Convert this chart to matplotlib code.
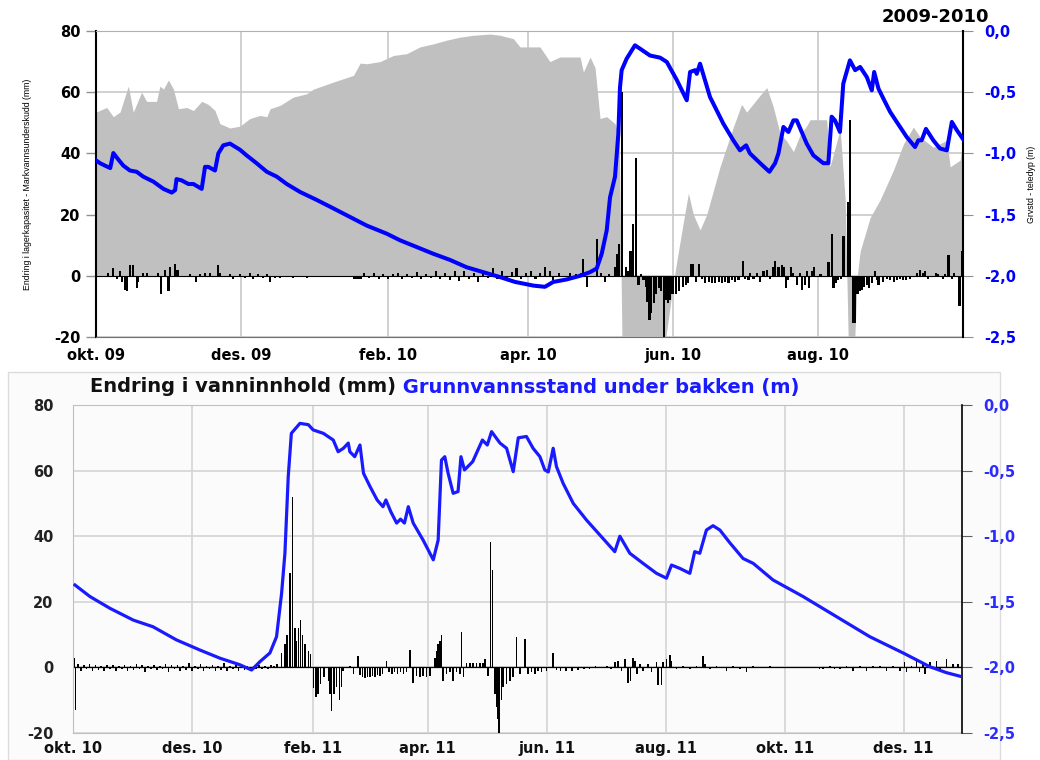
import numpy as np
import matplotlib
matplotlib.use('Agg')
import matplotlib.pyplot as plt
from matplotlib.patches import Rectangle

# ---------------- top panel data (day 0 = 1 Oct 2009) ----------------
top_start = '2009-10-01'
top_end = '2010-10-01'
top_months = ['2009-10-01', '2009-12-01', '2010-02-01', '2010-04-01', '2010-06-01', '2010-08-01']
top_labels = ['okt. 09', 'des. 09', 'feb. 10', 'apr. 10', 'jun. 10', 'aug. 10']

# soil water deficit (grey area, mm)
deficit_days = [0, 4.5, 7.3, 10.1, 13.6, 15.7, 19.2, 21.3, 25.5, 26.9, 28.4, 30.5, 32.6, 34.7,
                38.2, 41, 44.5, 47.3, 50.1, 52.2, 56.4, 60.6, 64.8, 69, 71.9, 73.3, 77.5, 83.1,
                88.7, 91.5, 99.9, 108.4, 111.2, 114, 119.6, 125.2, 130.8, 136.4, 142, 147.6,
                153.3, 158.9, 165.9, 170.1, 175.7, 178.5, 186.9, 191.1, 195.3, 203.8, 205.2,
                208, 210.1, 212.2, 215, 218.5, 220.3, 221.5, 239, 243.5, 246.5, 249.4, 251.5,
                254.3, 257.1, 262.7, 268.3, 271.8, 273.9, 279.6, 282.4, 285.2, 288, 290.8,
                293.6, 296.4, 299.2, 300.6, 307.6, 309, 313.3, 315.4, 316.8, 319.2, 320.5,
                321.7, 325.9, 330.1, 335.7, 339.9, 344.1, 346.9, 352.5, 358.2, 359.6, 363.8, 365]
deficit_vals = [53.5, 55, 52, 53.5, 62, 53.5, 60, 57, 57, 62, 61, 64, 61, 54.6,
                55, 54, 57, 56, 54, 49.7, 48.3, 48.9, 51.4, 52.4, 52, 54.6, 55.7, 58.4,
                59.5, 61, 63.3, 65.5, 69.5, 69.3, 70, 72, 72.6, 74.8, 75.8, 77,
                78, 78.6, 79, 78.6, 77.5, 74.8, 74.8, 70, 71.5, 71.5, 66.6,
                71.5, 68, 51.4, 52, 49.7, 45, -25, -25, 0, 14, 27, 20,
                15, 20, 35.6, 48.6, 56, 53.5, 59, 61.5, 55, 46.5, 44,
                40.6, 46, 49, 51, 51, 35.6, 48, 24.8, -25, -25, 0,
                8, 19, 24.8, 34.5, 43, 48.6, 45.4, 42, 44.3, 35.6, 37.8, 44.8]

# daily change in storage (black bars, mm)
top_bar_days = [1, 2.4, 3.8, 5.2, 7, 8.7, 10.1, 10.8, 12.2, 12.9, 14.3, 15.4, 17.1, 17.8, 19.9,
                21.3, 24.1, 26.2, 27.2, 29, 30.5, 31.2, 33.3, 34.3, 36.1, 39.6, 42.1, 43.8,
                45.9, 48, 51.2, 52.2, 53.6, 56.4, 57.8, 60.6, 62.7, 64.8, 66.2, 68.3, 70.4,
                71.9, 73.3, 75.4, 77.5, 80.3, 83.1, 85.9, 88.7, 108.5, 109.5, 110.5, 111.5,
                113, 115, 117, 119, 121, 123, 125, 127, 129, 131, 133, 135, 137, 139, 141,
                143, 145, 147, 149, 151, 153, 155, 157, 159, 161, 163, 165, 167, 169, 171,
                173, 175, 177, 179, 181, 183, 185, 187, 189, 191, 192.5, 195, 197, 199.5,
                200.5, 202, 204, 205.2, 206.6, 211, 212.5, 214.3, 216, 218.5, 219.3, 220.1,
                221.6, 223, 224, 225, 226, 227.4, 228.4, 229.5, 230.5, 231.4, 232.1, 233,
                233.8, 234.8, 235.9, 237, 238, 239, 240, 240.7, 241.6, 242.7, 244, 245.5,
                247, 248.4, 249.4, 250.4, 251.5, 252.7, 254, 255, 256.4, 257.9, 259.3, 260.7,
                262.1, 263.5, 264.9, 266.3, 267.7, 269.1, 270.5, 272.3, 273.3, 274.7, 275.4,
                276.8, 278.2, 279.6, 281, 282.4, 283.8, 285.2, 286, 287.3, 288.7, 289.7,
                290.6, 291.5, 292.5, 293.6, 295, 296.2, 297.1, 298.5, 299.3, 300, 301.4,
                302.1, 303.5, 305, 306.5, 308.4, 309.7, 310.5, 311.5, 312.5, 313.5, 314.7,
                315.5, 316.6, 317.6, 318.6, 319.6, 320.6, 321.4, 322.4, 323.4, 324.5, 325.6,
                326.6, 328, 328.7, 329.4, 331.5, 333, 334.3, 336, 337.1, 338.5, 339.9, 341,
                342.7, 344, 345.5, 346.9, 348, 349, 350.4, 352.5, 353.5, 354.6, 355.5, 356.7,
                357.5, 358.9, 360.3, 361.3, 362.4, 363.5, 364.5]
top_bar_vals = [-0.5, -0.5, -0.3, 1, 2.5, -1, 1.5, -2, -4.5, -5, 3.5, 3.5, -4, -2, 1,
                1, -0.3, 1, -6, 2, -5, 3, 4, 2, -0.5, 0.5, -2, 0.5,
                1, 0.8, 3.5, 1, -0.5, 0.5, -1, 0.5, -0.8, 0.8, -1, 0.5, -0.8,
                0.7, -2, -0.6, -0.8, -0.5, -0.6, -0.5, -0.8, -1, -1, -1, -1,
                0.8, -0.8, 1, -1, 0.6, -1, 0.5, 0.8, -1, 0.7, -0.6, 1.2, -1.2, 0.6, -0.8,
                1.5, -1.2, 0.8, -1.5, 1.6, -1.8, 1.5, -1, 1, -2, 1.2, -0.8, 2.5, -1, 1.5,
                -1.2, 1.2, 2.5, -1.2, 1, 1.5, -1, 1, 3, 1.5, -1.5, 1, -0.5, 1,
                -1, 0.5, 1, 5.6, -3.6, 11.9, 1, -2, 0.5, 3, 7, 10.5,
                60, 3, 1.5, 8, 16.9, 38.4, -3, 0.5, -1.5, -3.6, -8.5, -14.4,
                -12, -9, -6, -4, -5, -22, -8, -9, -8, -6, -6, -5,
                -3.5, -3, -2.5, 4, 4, -2, 4, -1, -2.5, -2, -2.5, -2.5,
                -2, -2.5, -2, -2.5, -1.5, -2, -1.5, 5, -1, -1.5, 1,
                -1, 1, -2, 1.5, 2, -1, 3, 5, 3, 3.5, 3,
                -4, -1.5, 3, 1, -3, 1, -4.5, -3, 1.5, -4, 1.5,
                3, -0.5, 0.5, -0.5, 4.5, 13.5, -4, -2.5, -1.5, -1, 13,
                -0.5, 24, 51, -15.5, -15.5, -6, -5, -4.5, -3.5, -3, -4,
                -2.5, 1.5, -1.5, -3, -2, -1, -1.5, -2, -1.5, -1, -1.5, -1.5,
                -1, -0.5, 1, 2, 1, 1.5, -1, -0.5, 1, 0.5, -0.5, -1,
                0.5, 6.7, -1, 1, -0.5, -10, 8.2]

# groundwater / frost depth (blue line, m)
top_gw_days = [0, 1.7, 3.8, 6.0, 7.3, 9.4, 11.5, 14.3, 17.1, 19.9, 24.1, 28.4, 31.9, 33.3,
               33.9, 36, 38.9, 41, 44.5, 45.9, 47.3, 50.1, 51.5, 53.6, 56.4, 60.6, 63.4,
               67.6, 71.9, 76.1, 80.3, 85.9, 92.9, 100, 107, 114, 122.4, 128, 135, 142, 149,
               156, 163, 170, 176.4, 184.1, 189, 192.5, 198.1, 203.8, 208, 210.8, 212.9, 215,
               216.4, 218.5, 219.9, 220.6, 221.3, 223.4, 226.9, 229, 233.2, 237.5, 240.3,
               244.5, 248.7, 250.1, 252.2, 252.9, 254.3, 258.5, 259.9, 264.1, 268.3, 271.1,
               273.7, 275.3, 279.6, 283.5, 285.9, 287.3, 289.4, 291.5, 293.6, 295, 299.2, 302,
               306.2, 308.3, 309.7, 311.1, 313.2, 314.6, 317.4, 319.6, 321.7, 324.5, 326.6,
               327.6, 329.4, 331.5, 334.3, 337.1, 341.3, 344.8, 346.2, 347.6, 349.4, 352.5,
               355.3, 358.2, 360.3, 362.4, 364.9]
top_gw_vals = [-1.057, -1.08, -1.10, -1.12, -0.997, -1.05, -1.10, -1.14, -1.15, -1.19, -1.23,
               -1.29, -1.32, -1.30, -1.21, -1.22, -1.25, -1.25, -1.29, -1.11, -1.11, -1.14,
               -1.00, -0.934, -0.92, -0.97, -1.016, -1.08, -1.15, -1.19, -1.25, -1.315, -1.38,
               -1.45, -1.52, -1.59, -1.656, -1.71, -1.765, -1.82, -1.87, -1.93, -1.97, -2.01,
               -2.05, -2.08, -2.09, -2.05, -2.03, -2.0, -1.97, -1.94, -1.82, -1.63, -1.36,
               -1.19, -0.84, -0.46, -0.32, -0.226, -0.117, -0.144, -0.20, -0.218, -0.253,
               -0.40, -0.566, -0.335, -0.32, -0.35, -0.267, -0.54, -0.594, -0.757, -0.893,
               -0.975, -0.934, -1.00, -1.08, -1.15, -1.08, -1.00, -0.784, -0.825, -0.73,
               -0.73, -0.92, -1.016, -1.08, -1.08, -0.70, -0.73, -0.825, -0.43, -0.24, -0.32,
               -0.294, -0.376, -0.485, -0.335, -0.47, -0.553, -0.66, -0.743, -0.866, -0.948,
               -0.893, -0.893, -0.80, -0.893, -0.96, -0.975, -0.743, -0.81, -0.88]

# ---------------- bottom panel data (day 0 = 1 Oct 2010) ----------------
bot_start = '2010-10-01'
bot_months = ['2010-10-01', '2010-12-01', '2011-02-01', '2011-04-01', '2011-06-01',
              '2011-08-01', '2011-10-01', '2011-12-01']
bot_labels = ['okt. 10', 'des. 10', 'feb. 11', 'apr. 11', 'jun. 11', 'aug. 11', 'okt. 11', 'des. 11']

bot_bar_days = [0.8, 1.3, 2.5, 4, 5.5, 7, 8.5, 10, 11.5, 13, 14.5, 16, 17.5, 19, 20.5, 22, 23.5,
                25, 26.5, 28, 29.5, 31, 32.5, 34, 35.5, 37, 38.5, 40, 41.5, 43, 44.5, 46, 47.5,
                49, 50.5, 52, 53.5, 55, 56.5, 58, 59.5, 61, 62.5, 64, 65.5, 67, 68.5, 70, 71.5,
                73, 74.5, 76, 77.5, 79, 80.5, 82, 83.5, 85, 86.5, 88, 89.5, 91, 92.5, 94, 95.5,
                97, 98.5, 100, 101.5, 103, 104.5,
                107, 108.7, 109.9, 111.3, 112.6, 113.9, 114.7, 115.6, 116.8, 117.8, 119, 120.7,
                121.9, 123.3, 124.6, 125.8, 127, 128.7, 131, 131.8, 132.7, 133.8, 135.2, 136.6,
                137.8, 138.6, 142, 143.8, 146.3, 147.2, 148.5, 149.8, 151, 152.3, 153.6, 154.9,
                156.1, 157.4, 158.7, 160.9, 162, 163.5, 165, 166.5, 168, 169.5, 171, 172.8,
                174.5, 176.2, 177.9, 179.6, 181.3, 183, 185.6, 186.4, 187.3, 188.2, 189, 189.9,
                191.6, 193.3, 195, 196.7, 198.5, 199.3, 200.2, 201.9, 203.6, 205.3, 207, 208.7,
                210.4, 211.3, 213, 214.2, 215.2, 216.4, 217.3, 218.1, 218.6, 219.8, 220.7,
                222.4, 224.1, 225.8, 227.5, 229.2, 231.8, 233.5, 235.2, 236.9, 238.6, 240.3,
                242.9, 246.3, 248, 250, 253, 256, 259, 262, 265, 268, 271, 274, 276, 277.9,
                279.6, 281.3, 283, 284.8, 286, 287.3, 288.2, 289.4, 290.7, 292.4, 295, 296.7,
                299.3, 300.1, 301.9, 302.7, 304.4, 306.1, 307, 309.5, 313, 316.4, 319.8, 323.2,
                324.1, 326.6, 330, 335.2, 338.6, 342, 345.4, 348.9, 352.3, 357.4, 360.8, 383,
                384.8, 388.2, 390.7, 393.3, 396.7, 400.1, 403.6, 407, 410.4, 413.8, 417.2,
                420.7, 424.1, 426.6, 427.5, 430.1, 432.6, 434.3, 436, 436.9, 439.5, 442.9,
                444.6, 448, 451.4, 454]
bot_bar_vals = [3, -13, 1, -1.2, 0.8, -0.5, 1, -1, 0.6, -0.8, 0.5, -1, 0.7, -0.5, 0.8, -1.2, 0.5,
                -0.6, 0.8, -1, 0.4, -0.7, 1, -0.5, 0.6, -1.3, 0.5, -0.6, 0.8, -0.9, 0.5, -0.5, 1,
                -1.4, 0.6, -0.5, 0.7, -1, 0.5, -0.7, 1.2, -1, 0.5, -0.5, 0.9, -1.2, 0.5, -0.6, 0.8,
                -1, 0.5, -0.8, 1.3, -1, 0.5, -0.5, 0.7, -1, 0.6, -0.8, 0.5, -1.2, 0.5, -0.6, 0.8,
                -0.5, 0.5, -0.4, 0.6, 0.4, 1,
                4.3, 7, 10, 28.7, 52, 12, 8, 12, 14.5, 10, 7, 5,
                4, -6.4, -9, -8, -5, -3, -4, -8, -13.4, -8, -6, -10,
                -6, -1, 0.5, -2, 3.5, -2.3, -3, -3.3, -2.8, -3, -2.5, -3,
                -2.3, -2.5, -2, 2, -1.5, -2, -1.5, -2, -1.5, -2, -1.5, 5.3,
                -4.9, -2.5, -3, -2.5, -3, -2.5, 3, 5, 7, 8, 9.9, -4,
                -2, -1.5, -4, -1.5, -2, 10.9, -3, 1.2, 1.2, 1.2, 1.2, 1.2,
                1.2, 2.5, -2.5, 38.3, 29.7, -8, -12, -15.6, -21, -10, -6,
                -5, -4, -3, 9.3, -2, 8.8, -2, -1.5, -2, -1, -1.5,
                -1, 4.3, -0.8, -1, -1, -1, -0.8, -0.5, -0.5, 0.3, -0.3, 0.5, -0.5, 1.5,
                2, -1, 2.5, -4.9, -4, 3, 2, -2, 1, -1, 1, -1.5,
                1.5, -5.4, -5.4, 1.5, 2.5, 3.8, 2, -0.5, 0.5, -0.5, 0.5, 3.5,
                1, -0.5, 0.5, -1, 0.5, -0.5, -1.5, 0.3, -0.3, 0.3, -0.3, -0.5,
                -0.5, 0.5, -0.5, -0.5, 0.5, -1, 0.5, -1, 0.5, 0.5, -1,
                0.5, -1, 1.5, -1.5, 0.5, 2, -1.5, 1, -2, 1.5, 2,
                -1, 2.5, 1, 1]

bot_gw_days = [1, 8.7, 19, 31, 41, 53, 65, 75.4, 85.6, 91.6, 95.9, 101, 104.4, 107, 108.7,
               110.4, 112, 116.4, 120.7, 123.2, 128.4, 133.5, 136, 138.7, 141.2, 142, 144.5,
               147.2, 149, 152.3, 156, 159, 160.5, 163, 166, 168, 170, 172, 174.5, 179.6,
               184.8, 187.3, 189, 190.7, 192.4, 195, 197.5, 199, 200.8, 205, 210, 212.5,
               214.7, 219, 222.4, 225.8, 228.4, 232.6, 236, 239.5, 242, 243.8, 246.3, 248,
               251.4, 256.6, 263.4, 270.2, 277.9, 280.5, 285.6, 292.4, 299.3, 304.4, 307,
               311.2, 316.4, 318.9, 321.5, 324.9, 328.3, 331.8, 336.9, 343.7, 348.9, 359.1,
               374.5, 391.6, 408.7, 425.8, 439.5, 448, 455.7]
bot_gw_vals = [-1.372, -1.46, -1.55, -1.64, -1.69, -1.79, -1.867, -1.93, -1.98, -2.02, -1.956,
               -1.89, -1.766, -1.435, -1.13, -0.546, -0.216, -0.14, -0.15, -0.19, -0.216,
               -0.267, -0.356, -0.33, -0.29, -0.356, -0.394, -0.305, -0.52, -0.62, -0.724,
               -0.775, -0.724, -0.813, -0.90, -0.87, -0.90, -0.775, -0.90, -1.03, -1.18,
               -1.03, -0.42, -0.394, -0.52, -0.673, -0.66, -0.394, -0.495, -0.432, -0.267,
               -0.305, -0.203, -0.29, -0.33, -0.508, -0.25, -0.24, -0.33, -0.394, -0.495,
               -0.51, -0.33, -0.47, -0.597, -0.75, -0.877, -0.99, -1.118, -1.0, -1.13,
               -1.207, -1.283, -1.32, -1.22, -1.245, -1.283, -1.118, -1.13, -0.953, -0.92,
               -0.953, -1.05, -1.17, -1.207, -1.334, -1.46, -1.613, -1.766, -1.89, -1.995,
               -2.04, -2.07]

left_ticks = [-20, 0, 20, 40, 60, 80]
right_ticks = [-2.5, -2.0, -1.5, -1.0, -0.5, 0.0]
right_labels = ['-2,5', '-2,0', '-1,5', '-1,0', '-0,5', '0,0']


def offsets(start, dates):
    return [int((np.datetime64(d) - np.datetime64(start)).astype(int)) for d in dates]


fig = plt.figure(figsize=(10.4, 7.6), dpi=100)

# faint frame of the lower screenshot
fig.patches.append(Rectangle((8 / 1040, 0), 992 / 1040, 388 / 760, transform=fig.transFigure,
                             facecolor='#fbfbfb', edgecolor='#dcdcdc', lw=1, zorder=-5))

grid_col = '#c8c8c8'
tick_font = dict(fontsize=10.5, fontweight='bold')
narrow = ['Liberation Sans Narrow', 'Liberation Sans', 'DejaVu Sans']

# ================= top panel =================
ax = fig.add_axes([96 / 1040, 1 - 337 / 760, 867 / 1040, 306 / 760])
ax.set_xlim(0, offsets(top_start, [top_end])[0])
ax.set_ylim(-20, 80)
ax.fill_between(deficit_days, 0, deficit_vals, color='#c0c0c0', lw=0, zorder=1)
ax.bar(top_bar_days, top_bar_vals, width=0.9, color='black', zorder=3)
ax.axhline(0, color='black', lw=0.8, zorder=2)
ax.set_xticks(offsets(top_start, top_months))
ax.set_xticklabels(top_labels, **tick_font)
ax.set_yticks(left_ticks)
ax.set_yticklabels([str(t) for t in left_ticks], **tick_font)
ax.tick_params(axis='x', length=0, pad=8)
ax.tick_params(axis='y', length=7, color='#909090', width=1, pad=4)
ax.grid(color=grid_col, lw=1.2)
ax.set_axisbelow(True)
ax.spines['top'].set_color('#b0b0b0')
ax.spines['bottom'].set_color('#707070')
ax.spines['left'].set_linewidth(1.5)
ax.spines['right'].set_visible(False)
ax.set_ylabel('Endring i lagerkapasitet - Markvannsunderskudd (mm)',
              family=narrow, fontsize=6.3, labelpad=16)

ax2 = ax.twinx()
ax2.set_ylim(-2.5, 0)
ax2.plot(top_gw_days, top_gw_vals, color='#0000ff', lw=2.9, solid_joinstyle='round', zorder=5)
ax2.set_yticks(right_ticks)
ax2.set_yticklabels(right_labels, color='#0000ff', **tick_font)
ax2.tick_params(axis='y', length=7, color='#909090', pad=8)
for s in ['left', 'top', 'bottom']:
    ax2.spines[s].set_visible(False)
ax2.spines['right'].set_linewidth(1.5)
ax2.set_ylabel('Grvstd - teledyp (m)', family=narrow, fontsize=6.3, labelpad=8)

# year title: drawn inside ax2 so the right tick labels stay on top of its white box
ax2.text(935 / 1040, 1 - 17 / 760, '2009-2010', transform=fig.transFigure, fontsize=13,
         fontweight='bold', ha='center', va='center', zorder=1, clip_on=False,
         bbox=dict(facecolor='white', edgecolor='none', pad=2))

# ================= bottom panel =================
bx = fig.add_axes([73 / 1040, 1 - 733 / 760, 889 / 1040, 328 / 760])
bx.set_facecolor('none')
bx.set_xlim(0, 456)
bx.set_ylim(-20, 80)
bx.bar(bot_bar_days, bot_bar_vals, width=0.8, color='black', zorder=3)
bx.axhline(0, color='black', lw=0.9, zorder=2)
bx.set_xticks(offsets(bot_start, bot_months))
bx.set_xticklabels(bot_labels, color='#111111', **tick_font)
bx.set_yticks(left_ticks)
bx.set_yticklabels([str(t) for t in left_ticks], color='#222222', **tick_font)
bx.tick_params(axis='x', length=0, pad=6)
bx.tick_params(axis='y', length=0, pad=14)
bx.grid(color='#d4d4d4', lw=1.2)
bx.set_axisbelow(True)
for s in ['top', 'bottom', 'left']:
    bx.spines[s].set_color('#c0c0c0')
bx.spines['right'].set_visible(False)

bx2 = bx.twinx()
bx2.set_ylim(-2.5, 0)
bx2.plot(bot_gw_days, bot_gw_vals, color='#1a1aff', lw=2.3, solid_joinstyle='round', zorder=5)
bx2.set_yticks(right_ticks)
bx2.set_yticklabels(right_labels, color='#2b2bff', **tick_font)
bx2.tick_params(axis='y', length=7, color='#606060', pad=8)
for s in ['left', 'top', 'bottom']:
    bx2.spines[s].set_visible(False)
bx2.spines['right'].set_linewidth(1.2)

t1 = fig.text(90 / 1040, 1 - 387 / 760, 'Endring i vanninnhold (mm)', fontsize=14,
              fontweight='bold', color='#111111', va='center')
bx.annotate(' Grunnvannsstand under bakken (m)', xy=(1, 0), xycoords=t1, va='bottom',
            fontsize=14, fontweight='bold', color='#1a1aff', annotation_clip=False)

fig.savefig('out.png', dpi=100)
